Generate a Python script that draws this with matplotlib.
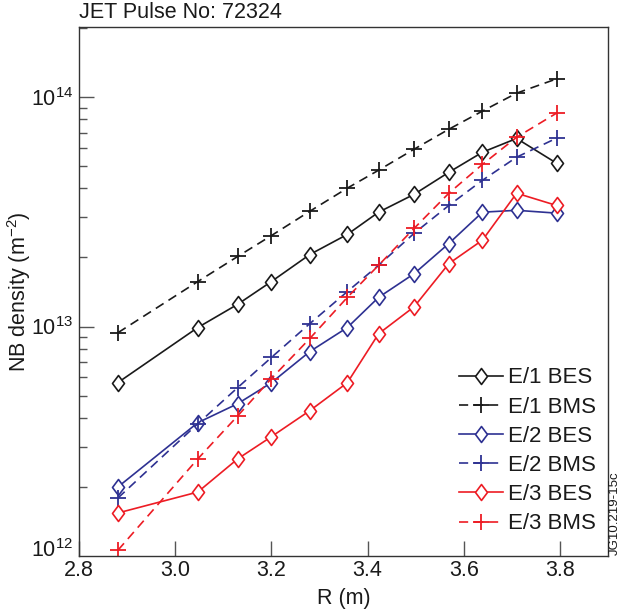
import matplotlib
matplotlib.use("Agg")
import matplotlib.pyplot as plt
from matplotlib.path import Path
import numpy as np

R = [2.881, 3.047, 3.130, 3.200, 3.280, 3.358, 3.423, 3.497, 3.569, 3.639, 3.710, 3.793]

e1_bes = [5.7e12, 9.9e12, 1.25e13, 1.57e13, 2.06e13, 2.52e13, 3.15e13, 3.77e13, 4.7e13, 5.75e13, 6.6e13, 5.15e13]
e1_bms = [9.4e12, 1.57e13, 2.02e13, 2.49e13, 3.18e13, 4.01e13, 4.8e13, 5.93e13, 7.24e13, 8.69e13, 1.04e14, 1.2e14]
e2_bes = [2.0e12, 3.81e12, 4.61e12, 5.69e12, 7.78e12, 9.9e12, 1.34e13, 1.70e13, 2.30e13, 3.15e13, 3.21e13, 3.12e13]
e2_bms = [1.79e12, 3.77e12, 5.42e12, 7.33e12, 1.03e13, 1.42e13, 1.85e13, 2.55e13, 3.37e13, 4.34e13, 5.47e13, 6.62e13]
e3_bes = [1.54e12, 1.90e12, 2.65e12, 3.31e12, 4.3e12, 5.69e12, 9.3e12, 1.22e13, 1.88e13, 2.38e13, 3.81e13, 3.37e13]
e3_bms = [1.06e12, 2.65e12, 4.08e12, 5.93e12, 8.87e12, 1.34e13, 1.85e13, 2.68e13, 3.81e13, 5.09e13, 6.68e13, 8.51e13]

labels = ["E/1 BES", "E/1 BMS", "E/2 BES", "E/2 BMS", "E/3 BES", "E/3 BMS"]
title = "JET Pulse No: 72324"
x_ticks = [2.8, 3.0, 3.2, 3.4, 3.6, 3.8]
x_ticklabels = ["2.8", "3.0", "3.2", "3.4", "3.6", "3.8"]
y_ticks = [1e13, 1e14]
y_ticklabels = [r"$10^{13}$", r"$10^{14}$"]

BLACK = "#1a1a1a"
BLUE = "#2e3192"
RED = "#ed1c24"

diamond = Path([(0, 1), (0.75, 0), (0, -1), (-0.75, 0), (0, 1)],
               [Path.MOVETO, Path.LINETO, Path.LINETO, Path.LINETO, Path.CLOSEPOLY])

plt.rcParams['font.family'] = ['Liberation Sans', 'DejaVu Sans']
plt.rcParams['mathtext.fontset'] = 'custom'
plt.rcParams['mathtext.rm'] = 'Liberation Sans'
plt.rcParams['mathtext.it'] = 'Liberation Sans:italic'
plt.rcParams['mathtext.bf'] = 'Liberation Sans:bold'
plt.rcParams['mathtext.default'] = 'regular'

fig = plt.figure(figsize=(6.22, 6.12), dpi=100)
ax = fig.add_axes([0.127, 0.0915, 0.8505, 0.8644])

dash = (0, (5.5, 3.5))
series = [
    (e1_bes, BLACK, '-', 'D'),
    (e1_bms, BLACK, dash, '+'),
    (e2_bes, BLUE, '-', 'D'),
    (e2_bms, BLUE, dash, '+'),
    (e3_bes, RED, '-', 'D'),
    (e3_bms, RED, dash, '+'),
]
for (vals, c, ls, m), lab in zip(series, labels):
    if m == 'D':
        ax.plot(R, vals, color=c, ls=ls, lw=1.2, marker=diamond, ms=11.5,
                mfc='white', mec=c, mew=1.2, label=lab)
    else:
        ax.plot(R, vals, color=c, ls=ls, lw=1.2, marker='+', ms=11,
                mec=c, mew=1.3, label=lab)

ax.set_yscale('log')
ax.set_xlim(2.8, 3.9)
ax.set_ylim(1e12, 2.02e14)
ax.set_xticks(x_ticks)
ax.set_xticklabels(x_ticklabels)
ax.set_yticks(y_ticks)
ax.set_yticklabels(y_ticklabels)
ax.tick_params(axis='both', which='both', direction='in', colors='#555555',
               labelcolor='#1a1a1a', labelsize=15.5, top=False, right=False)
ax.tick_params(axis='both', which='major', length=11, width=1.0)
ax.tick_params(axis='x', which='major', pad=3)
ax.tick_params(axis='y', which='major', pad=4)
ax.tick_params(axis='y', which='minor', length=6, width=1.0)
ax.tick_params(axis='x', which='minor', bottom=False)
for s in ax.spines.values():
    s.set_color('#333333')
    s.set_linewidth(1.0)

# bottom decade label, nudged up like the reference
ax.annotate(r"$10^{12}$", xy=(0, 1e12), xycoords=('axes fraction', 'data'),
            xytext=(-4, 4), textcoords='offset points', ha='right', va='center',
            fontsize=15.5, color='#1a1a1a')

ax.set_xlabel("R (m)", fontsize=15.5, color='#1a1a1a')
ax.xaxis.set_label_coords(0.5, -0.06)
ax.set_ylabel(r"NB density (m$^{-2}$)", fontsize=15.5, color='#1a1a1a')
ax.yaxis.set_label_coords(-0.087, 0.5)
ax.text(0.0, 1.008, title, transform=ax.transAxes, fontsize=15.5, color='#1a1a1a',
        ha='left', va='bottom')

leg = ax.legend(loc='lower right', frameon=False, fontsize=16, handlelength=2.0,
                labelspacing=0.37, handletextpad=0.2, borderaxespad=0.0,
                bbox_to_anchor=(0.994, 0.024))
for t in leg.get_texts():
    t.set_color('#1a1a1a')

fig.text(0.988, 0.093, "JG10.219-15c", rotation=90, fontsize=9.5, ha='center',
         va='bottom', color='#1a1a1a')

fig.savefig("out.png", dpi=100)
